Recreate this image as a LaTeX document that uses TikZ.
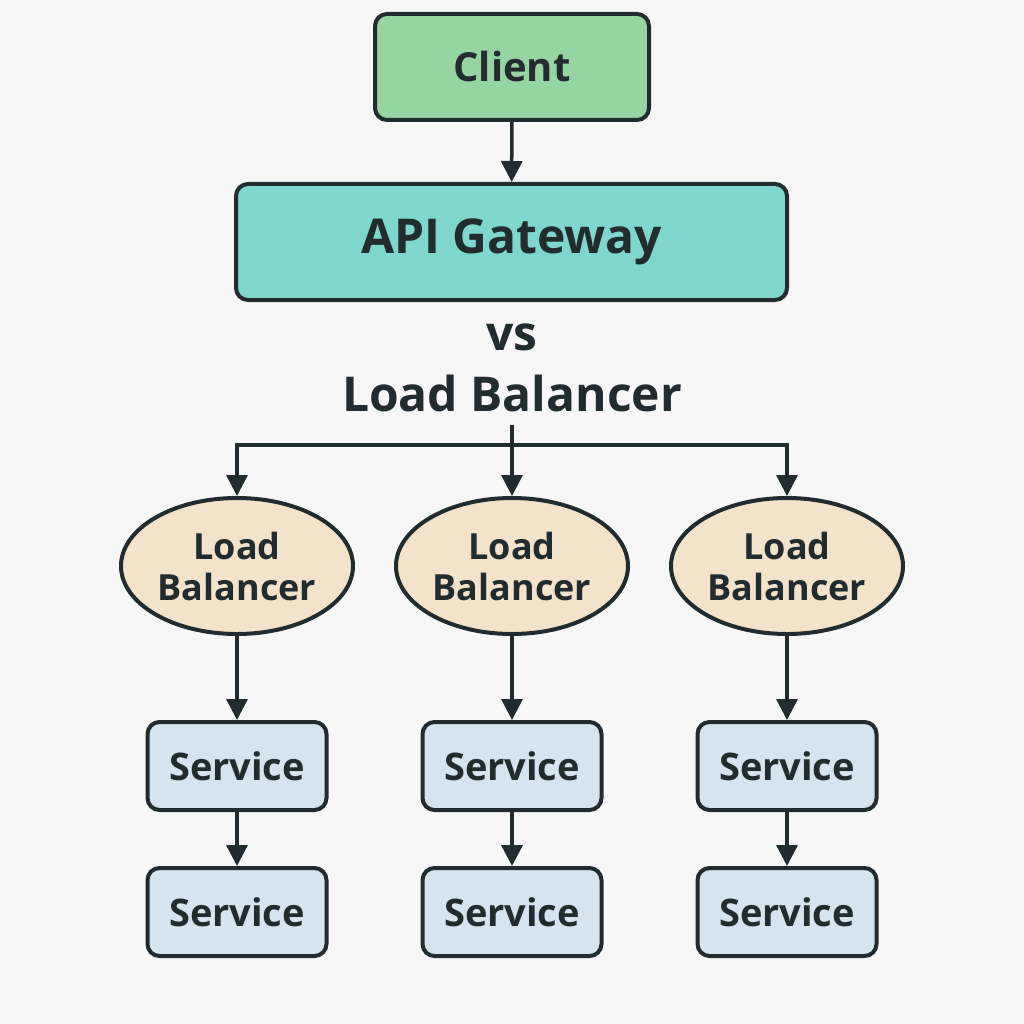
\documentclass[tikz,border=0pt]{standalone}
\usepackage{fontspec}
\setmainfont{Open Sans}
\usetikzlibrary{shapes.geometric,arrows.meta}
\definecolor{bg}{HTML}{F7F7F7}
\definecolor{ink}{HTML}{222B2E}
\definecolor{clientfill}{HTML}{96D5A2}
\definecolor{gwfill}{HTML}{7ED6CC}
\definecolor{lbfill}{HTML}{F3E3CB}
\definecolor{svcfill}{HTML}{D5E4EF}
\tikzset{
  box/.style={draw=ink, line width=4pt, rounded corners=12pt, inner sep=0pt, text=ink, font=\bfseries},
  lbnode/.style={ellipse, draw=ink, line width=4pt, fill=lbfill, minimum width=232pt, minimum height=136pt, inner sep=0pt, text=ink, align=center, font=\bfseries\fontsize{36}{41}\selectfont},
  svc/.style={box, fill=svcfill, minimum width=179pt, minimum height=88pt, font=\bfseries\fontsize{38}{42}\selectfont},
  conn/.style={draw=ink, line width=3.5pt, -{Triangle[length=21pt,width=21pt]}},
  plain/.style={draw=ink, line width=3.5pt}
}
\begin{document}
\begin{tikzpicture}[x=1pt,y=-1pt]
\fill[bg] (0,0) rectangle (1024,1024);
\useasboundingbox (0,0) rectangle (1024,1024);
\node[box, fill=clientfill, minimum width=274pt, minimum height=106pt, font=\bfseries\fontsize{40}{44}\selectfont] (client) at (512,67) {Client};
\node[box, fill=gwfill, minimum width=551pt, minimum height=116pt, font=\bfseries\fontsize{48}{52}\selectfont] (gw) at (511.5,242) {API Gateway};
\node[text=ink, font=\bfseries\fontsize{48}{52}\selectfont] (vs) at (512,337) {vs};
\node[text=ink, font=\bfseries\fontsize{48}{52}\selectfont, inner sep=2pt] (title) at (512,393) {Load Balancer};
\node[lbnode] (lb1) at (237,566) {Load\\Balancer};
\node[lbnode] (lb2) at (512,566) {Load\\Balancer};
\node[lbnode] (lb3) at (787,566) {Load\\Balancer};
\node[svc] (s1a) at (237,766) {Service};
\node[svc] (s2a) at (512,766) {Service};
\node[svc] (s3a) at (787,766) {Service};
\node[svc] (s1b) at (237,912) {Service};
\node[svc] (s2b) at (512,912) {Service};
\node[svc] (s3b) at (787,912) {Service};
\coordinate (top) at (512,425);
\coordinate (hub) at (512,445);
\coordinate (left) at (237,445);
\coordinate (right) at (787,445);
\draw[conn] (client) -- (gw);
\draw[plain] (top) -- (hub);
\draw[plain, line cap=rect] (left) -- (right);
\draw[conn] (hub) -- (lb2);
\draw[conn] (left) -- (lb1);
\draw[conn] (right) -- (lb3);
\draw[conn] (lb1) -- (s1a);
\draw[conn] (lb2) -- (s2a);
\draw[conn] (lb3) -- (s3a);
\draw[conn] (s1a) -- (s1b);
\draw[conn] (s2a) -- (s2b);
\draw[conn] (s3a) -- (s3b);
\end{tikzpicture}
\end{document}
